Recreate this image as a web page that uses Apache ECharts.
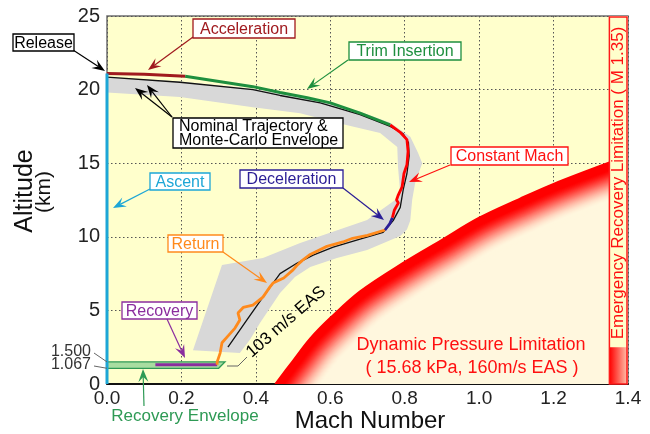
<!DOCTYPE html>
<html><head><meta charset="utf-8">
<script src="https://cdn.jsdelivr.net/npm/echarts@6.0.0/dist/echarts.min.js"></script>
<style>html,body{margin:0;padding:0;background:#fff}#c{width:650px;height:434px}</style>
</head><body><div id="c"></div>
<script>
// ---------------- data (Mach, altitude km) ----------------
const X_MIN = 0, X_MAX = 1.4, X_STEP = 0.2;
const Y_MIN = 0, Y_MAX = 25, Y_STEP = 5;
const ASCENT = [[0, 0], [0, 21.1]];
const ACCELERATION = [[0, 21.1], [0.1, 21.05], [0.21, 20.9]];
const TRIM_INSERTION = [[0.21, 20.9], [0.392, 20.2], [0.465, 19.8], [0.538, 19.45], [0.6, 19.1], [0.68, 18.4], [0.761, 17.6]];
const CONSTANT_MACH = [[0.761, 17.6], [0.788, 17.1], [0.806, 16.6], [0.809, 15.8], [0.806, 14.9], [0.798, 14.3], [0.793, 13.4], [0.782, 12.8], [0.778, 12.5], [0.783, 12.3], [0.772, 11.8], [0.767, 11.3]];
const DECELERATION = [[0.767, 11.3], [0.76, 10.9], [0.747, 10.46]];
const RETURN_PATH = [[0.747, 10.46], [0.70, 10.1], [0.66, 9.9], [0.634, 9.65], [0.591, 9.35], [0.546, 8.8], [0.525, 8.4], [0.51, 8.05], [0.50, 7.75], [0.475, 7.2], [0.446, 6.86], [0.438, 6.6], [0.419, 5.9], [0.392, 5.36], [0.366, 5.2], [0.352, 4.82], [0.357, 4.35], [0.344, 3.8], [0.323, 3.2], [0.309, 2.8], [0.304, 2.1], [0.296, 1.5], [0.296, 1.3]];
const RECOVERY = [[0.13, 1.3], [0.296, 1.3]];
const RECOVERY_ENVELOPE = [[0, 1.5], [0.317, 1.5], [0.30, 1.067], [0, 1.067]];
const NOMINAL = [[0, 20.85], [0.196, 20.5], [0.392, 20.0], [0.465, 19.6], [0.573, 19.1], [0.68, 18.3], [0.761, 17.5], [0.796, 17.0], [0.81, 16.4], [0.812, 15.5], [0.806, 14.3], [0.796, 13.2], [0.788, 12.0], [0.769, 11.1], [0.742, 10.3], [0.68, 9.85], [0.608, 9.3], [0.554, 8.76], [0.51, 8.2], [0.465, 7.5], [0.419, 5.9], [0.376, 4.35], [0.325, 2.5]];
const MC_ENVELOPE = [[0, 20.85], [0.196, 20.55], [0.392, 20.05], [0.573, 19.25], [0.68, 18.5], [0.761, 17.75], [0.815, 16.8], [0.836, 15.7], [0.847, 15.0], [0.828, 13.65], [0.82, 12.5], [0.815, 11.1], [0.806, 10.5], [0.788, 10.05], [0.699, 9.1], [0.618, 8.56], [0.546, 7.95], [0.505, 7.27], [0.465, 6.18], [0.411, 4.14], [0.384, 3.0], [0.357, 2.1], [0.231, 2.3], [0.309, 8.08], [0.419, 8.56], [0.519, 9.58], [0.699, 11.14], [0.78, 12.6], [0.788, 13.0], [0.782, 14.74], [0.78, 16.1], [0.734, 17.05], [0.626, 17.7], [0.519, 18.4], [0.392, 18.8], [0.196, 19.5], [0, 19.8]];
const DYN_PRESSURE = [[0.452, 0], [0.50, 1.6], [0.546, 3.1], [0.6, 4.5], [0.68, 6.3], [0.8, 8.3], [0.9, 9.8], [1.0, 11.3], [1.11, 12.6], [1.2, 13.6], [1.35, 15.05]];
const EMERGENCY_MACH = 1.35;
const EMERGENCY_FILL_TOP = 2.5;
const ENVELOPE_TICKS = ['1.500', '1.067'];
const ENVELOPE_TICK_VALUES = [1.5, 1.067];

// ---------------- helpers ----------------
const FONT = '"Liberation Sans", Arial, sans-serif';
function mix(a, b, t) { return 'rgb(' + a.map((v, i) => Math.round(v + (b[i] - v) * t)).join(',') + ')'; }

function lineSeries(name, data, color, width, z) {
  return { name, type: 'line', data, showSymbol: false, symbol: 'none', lineStyle: { color, width }, z, silent: true, animation: false };
}

const chart = echarts.init(document.getElementById('c'));

chart.setOption({
  animation: false,
  grid: { left: 107, top: 16, right: 22, bottom: 50, show: true, backgroundColor: '#FFFFCC', borderColor: '#6E6E6E', borderWidth: 1.5 },
  xAxis: {
    type: 'value', min: X_MIN, max: X_MAX, interval: X_STEP,
    axisLine: { show: true, lineStyle: { color: '#111', width: 2 } },
    axisTick: { show: false },
    axisLabel: { margin: 5, color: '#222', fontSize: 19, fontFamily: FONT, formatter: v => v.toFixed(1) },
    splitLine: { show: true, lineStyle: { color: '#555', width: 1, type: [1.5, 2.5] } }
  },
  yAxis: {
    type: 'value', min: Y_MIN, max: Y_MAX, interval: Y_STEP,
    axisLine: { show: false },
    axisTick: { show: false },
    axisLabel: { margin: 7, color: '#222', fontSize: 20, fontFamily: FONT },
    splitLine: { show: true, lineStyle: { color: '#555', width: 1, type: [1.5, 2.5] } }
  },
  series: [
    {
      type: 'custom', name: 'mc', data: [[0, 0]], z: 2, silent: true, clip: true,
      renderItem: (p, api) => ({ type: 'polygon', shape: { points: MC_ENVELOPE.map(d => api.coord(d)) }, style: { fill: '#D8D8D8' } })
    },
    {
      type: 'custom', name: 'dyn', data: [[0, 0]], z: 3, silent: true, clip: true,
      renderItem: (p, api) => {
        const pts = DYN_PRESSURE.map(d => api.coord(d));
        const last = DYN_PRESSURE[DYN_PRESSURE.length - 1];
        const children = [{ type: 'polygon', shape: { points: pts.concat([api.coord([last[0] + 0.1, 0]), api.coord([DYN_PRESSURE[0][0], -2])]) }, style: { fill: '#FFF7DE' } }];
        const normals = pts.map((q, i) => {
          const a = pts[Math.max(0, i - 1)], b = pts[Math.min(pts.length - 1, i + 1)];
          let tx = b[0] - a[0], ty = b[1] - a[1];
          const L = Math.hypot(tx, ty); tx /= L; ty /= L;
          return [-ty, tx];
        });
        const RED = [255, 0, 0], PALE = [255, 247, 222];
        for (let k = 50; k >= 0; k--) {
          const d = k * 0.8;
          const t = Math.min(1, Math.max(0, (d - 6) / 30));
          const e = t * t * (3 - 2 * t);
          children.push({
            type: 'polyline',
            shape: { points: pts.map((q, i) => [q[0] + normals[i][0] * d, q[1] + normals[i][1] * d]), smooth: 0.35 },
            style: { stroke: mix(RED, PALE, Math.pow(e, 0.8)), lineWidth: 1.8, fill: null }
          });
        }
        return { type: 'group', children };
      }
    },
    {
      type: 'custom', name: 'emergency', data: [[0, 0]], z: 4, silent: true, clip: false,
      renderItem: (p, api) => {
        const tl = api.coord([EMERGENCY_MACH, Y_MAX]);
        const br = api.coord([X_MAX, Y_MIN]);
        const ft = api.coord([EMERGENCY_MACH, EMERGENCY_FILL_TOP]);
        return {
          type: 'group', children: [
            { type: 'rect', shape: { x: tl[0], y: tl[1], width: br[0] - tl[0], height: br[1] - tl[1] }, style: { fill: '#FFFFCC', stroke: null } },
            { type: 'rect', shape: { x: ft[0], y: ft[1], width: br[0] - ft[0], height: br[1] - ft[1] }, style: { fill: new echarts.graphic.LinearGradient(0, 0, 1, 0, [{ offset: 0, color: '#FF0000' }, { offset: 1, color: '#FFC8B0' }]) } },
            { type: 'rect', shape: { x: tl[0], y: tl[1] + 1, width: br[0] - tl[0] - 1, height: br[1] - tl[1] - 1 }, style: { fill: null, stroke: '#FF1a1a', lineWidth: 1.5 } }
          ]
        };
      }
    },
    {
      type: 'custom', name: 'recEnv', data: [[0, 0]], z: 5, silent: true, clip: false,
      renderItem: (p, api) => ({ type: 'polygon', shape: { points: RECOVERY_ENVELOPE.map(d => api.coord(d)) }, style: { fill: '#A8DDA0', stroke: '#2E9A55', lineWidth: 1.3 } })
    },
    lineSeries('nominal', NOMINAL, '#111111', 1.3, 6),
    lineSeries('recovery', RECOVERY, '#8B2D9E', 3, 7),
    lineSeries('return', RETURN_PATH, '#FF8A1C', 2.8, 8),
    lineSeries('decel', DECELERATION, '#2B1E96', 2.8, 8),
    lineSeries('constMach', CONSTANT_MACH, '#FF0000', 2.8, 8),
    lineSeries('trim', TRIM_INSERTION, '#1E8F3E', 3, 8),
    lineSeries('accel', ACCELERATION, '#A01A1E', 3, 8),
    lineSeries('ascent', ASCENT, '#1DA6D6', 3, 9)
  ]
});

// ---------------- annotations ----------------
function arrow(x1, y1, x2, y2, color) {
  const ang = Math.atan2(y2 - y1, x2 - x1);
  const L = 13, W = 5, N = 8;
  const c = Math.cos(ang), s = Math.sin(ang);
  const bx = x2 - c * L, by = y2 - s * L;
  const nx = x2 - c * N, ny = y2 - s * N;
  return [
    { type: 'line', z: 100, shape: { x1, y1, x2: nx, y2: ny }, style: { stroke: color, lineWidth: 1.2 } },
    { type: 'polygon', z: 100, shape: { points: [[x2, y2], [bx - s * W, by + c * W], [nx, ny], [bx + s * W, by - c * W]] }, style: { fill: color } }
  ];
}
function box(x, y, w, h, text, color, textColor) {
  return [
    { type: 'rect', z: 101, shape: { x, y, width: w, height: h }, style: { fill: '#fff', stroke: color, lineWidth: 1.3 } },
    { type: 'text', z: 102, style: { text, x: x + w / 2, y: y + h / 2 + 1, textAlign: 'center', textVerticalAlign: 'middle', fill: textColor || color, font: '16px ' + FONT } }
  ];
}
function txt(text, x, y, color, size, align, rot) {
  return { type: 'text', z: 103, x, y, rotation: rot || 0, style: { text, x: 0, y: 0, textAlign: align || 'center', textVerticalAlign: 'middle', fill: color, font: size + 'px ' + FONT } };
}

const yTickPix = ENVELOPE_TICK_VALUES.map(v => chart.convertToPixel({ gridIndex: 0 }, [0, v])[1]);

let els = [];
els = els.concat(arrow(73, 50, 105, 71, '#000'), box(13, 34, 61, 17, 'Release', '#000'));
els = els.concat(arrow(193, 37, 148, 70, '#A01A1E'), box(193, 19, 102, 19, 'Acceleration', '#A01A1E'));
els = els.concat(arrow(348, 60, 307, 89, '#1E8F3E'), box(349, 42, 112, 18, 'Trim Insertion', '#1E8F3E'));
els = els.concat(arrow(172, 117, 135, 88, '#000'), arrow(172, 117, 147, 85, '#000'));
els.push({ type: 'rect', z: 101, shape: { x: 173, y: 118, width: 170, height: 30 }, style: { fill: '#fff', stroke: '#000', lineWidth: 1.3 } });
els.push(txt('Nominal Trajectory &', 179, 127, '#000', 16, 'left'));
els.push(txt('Monte-Carlo Envelope', 179, 141, '#000', 16, 'left'));
els = els.concat(arrow(150, 189, 113, 208, '#1DA6D6'), box(150, 173, 60, 17, 'Ascent', '#1DA6D6'));
els = els.concat(arrow(343, 188, 384, 220, '#2B1E96'), box(240, 170, 103, 18, 'Deceleration', '#2B1E96'));
els = els.concat(arrow(450, 165, 409, 182, '#FF1010'), box(451, 147, 117, 18, 'Constant Mach', '#FF1010'));
els = els.concat(arrow(223, 252, 267, 283, '#FF8A1C'), box(168, 235, 55, 17, 'Return', '#FF8A1C'));
els = els.concat(arrow(167, 319, 185, 358, '#8B2D9E'), box(122, 302, 75, 17, 'Recovery', '#8B2D9E'));
els = els.concat(arrow(144, 406, 143, 369, '#2E9A55'));
els.push(txt('Recovery Envelope', 185, 416, '#2E9A55', 17));
// envelope tick labels
els.push(txt(ENVELOPE_TICKS[0], 91, 352, '#333', 16, 'right'));
els.push(txt(ENVELOPE_TICKS[1], 91, 365, '#333', 16, 'right'));
els.push({ type: 'line', z: 100, shape: { x1: 94, y1: 353, x2: 107, y2: yTickPix[0] }, style: { stroke: '#666', lineWidth: 1 } });
els.push({ type: 'line', z: 100, shape: { x1: 94, y1: 366, x2: 107, y2: yTickPix[1] }, style: { stroke: '#666', lineWidth: 1 } });
// 103 m/s EAS
els.push({ type: 'polyline', z: 100, shape: { points: [[227, 366], [238, 366], [247, 357]] }, style: { stroke: '#666', lineWidth: 1, fill: null } });
els.push(txt('103 m/s EAS', 286, 322, '#000', 17, 'center', 41 * Math.PI / 180));
// dynamic pressure
els.push(txt('Dynamic Pressure Limitation', 471, 345, '#FF1010', 18));
els.push(txt('( 15.68 kPa, 160m/s EAS )', 472, 368, '#FF1010', 18));
// emergency
els.push(txt('Emergency Recovery Limitation ( M 1.35)', 618, 183, '#FF1010', 17, 'center', Math.PI / 2));
// axis names
els.push(txt('Altitude', 25, 191, '#111', 25, 'center', Math.PI / 2));
els.push(txt('(km)', 44, 192, '#111', 21, 'center', Math.PI / 2));
els.push(txt('Mach Number', 370, 421, '#111', 24, 'center'));

chart.setOption({ graphic: { elements: els } });
</script>
</body></html>
